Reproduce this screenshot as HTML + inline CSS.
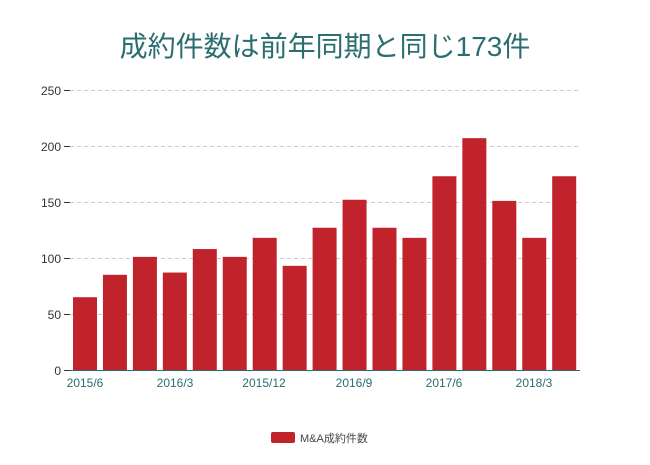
<!DOCTYPE html>
<html><head><meta charset="utf-8"><style>body{margin:0;background:#fff}</style></head><body>
<svg width="650" height="460" xmlns="http://www.w3.org/2000/svg" font-family="Liberation Sans, Noto Sans CJK JP, sans-serif">
<text x="325" y="56" text-anchor="middle" font-size="28" fill="#2b6e70">成約件数は前年同期と同じ173件</text>
<g stroke="#ccc" stroke-dasharray="4,3" stroke-width="1">
<line x1="70" x2="580" y1="90.5" y2="90.5"/><line x1="70" x2="580" y1="146.5" y2="146.5"/><line x1="70" x2="580" y1="202.5" y2="202.5"/><line x1="70" x2="580" y1="258.5" y2="258.5"/><line x1="70" x2="580" y1="314.5" y2="314.5"/>
</g>
<g stroke="#333"><line x1="64" x2="70" y1="90.5" y2="90.5"/><line x1="64" x2="70" y1="146.5" y2="146.5"/><line x1="64" x2="70" y1="202.5" y2="202.5"/><line x1="64" x2="70" y1="258.5" y2="258.5"/><line x1="64" x2="70" y1="314.5" y2="314.5"/><line x1="64" x2="70" y1="370.5" y2="370.5"/></g>
<g font-size="12" fill="#333" text-anchor="end">
<text x="61" y="95">250</text><text x="61" y="151">200</text><text x="61" y="207">150</text><text x="61" y="263">100</text><text x="61" y="319">50</text><text x="61" y="375">0</text></g>
<g fill="#c0232b">
<rect x="73" y="297.2" width="24" height="72.8"/>
<rect x="102.95" y="274.8" width="24" height="95.2"/>
<rect x="132.9" y="256.88" width="24" height="113.12"/>
<rect x="162.85" y="272.56" width="24" height="97.44"/>
<rect x="192.8" y="249.04" width="24" height="120.96"/>
<rect x="222.75" y="256.88" width="24" height="113.12"/>
<rect x="252.7" y="237.84" width="24" height="132.16"/>
<rect x="282.65" y="265.84" width="24" height="104.16"/>
<rect x="312.6" y="227.76" width="24" height="142.24"/>
<rect x="342.55" y="199.76" width="24" height="170.24"/>
<rect x="372.5" y="227.76" width="24" height="142.24"/>
<rect x="402.45" y="237.84" width="24" height="132.16"/>
<rect x="432.4" y="176.24" width="24" height="193.76"/>
<rect x="462.35" y="138.16" width="24" height="231.84"/>
<rect x="492.3" y="200.88" width="24" height="169.12"/>
<rect x="522.25" y="237.84" width="24" height="132.16"/>
<rect x="552.2" y="176.24" width="24" height="193.76"/>
</g>
<line x1="70" x2="580" y1="370.5" y2="370.5" stroke="#2b6e70"/>
<g font-size="12" fill="#2b6e70" text-anchor="middle">
<text x="85" y="387">2015/6</text><text x="175" y="387">2016/3</text><text x="264" y="387">2015/12</text><text x="354" y="387">2016/9</text><text x="444" y="387">2017/6</text><text x="534" y="387">2018/3</text></g>
<rect x="271" y="432" width="24" height="11" rx="2" fill="#c0232b"/>
<text x="300" y="442" font-size="11" fill="#444">M&amp;A成約件数</text>
</svg></body></html>
